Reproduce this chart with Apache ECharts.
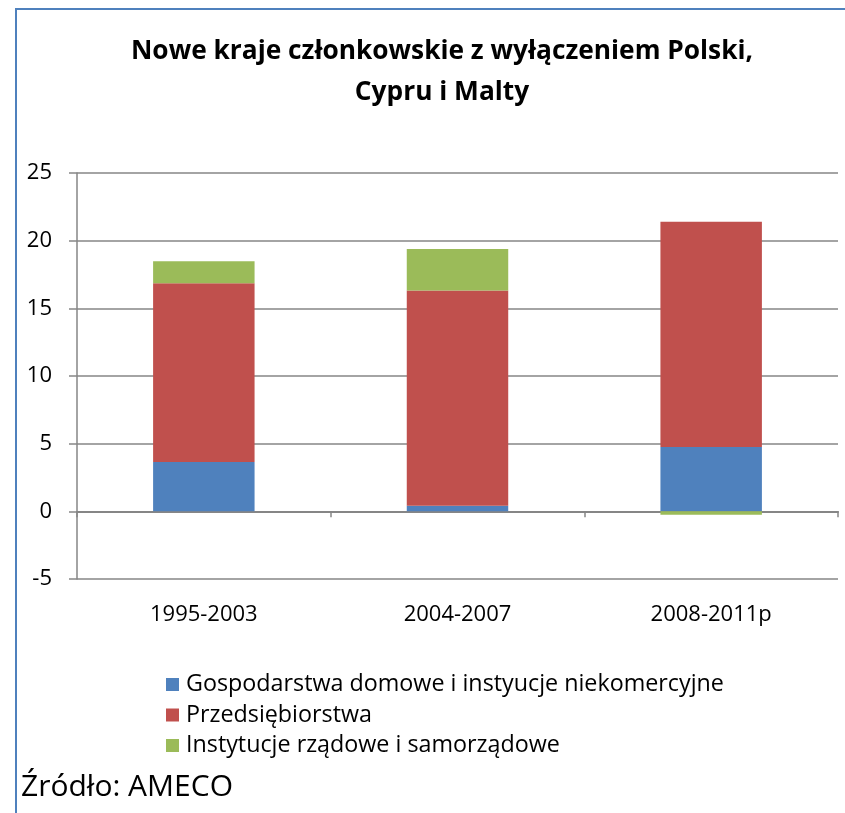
<!DOCTYPE html>
<html>
<head>
<meta charset="utf-8">
<script src="https://cdn.jsdelivr.net/npm/echarts@6/dist/echarts.min.js"></script>
<style>
  html, body { margin: 0; padding: 0; background: #fff; }
  #main { width: 845px; height: 813px; }
</style>
</head>
<body>
<div id="main"></div>
<script>
// chart data
var categories = ['1995-2003', '2004-2007', '2008-2011p'];
var households = [3.65, 0.42, 4.75];
var enterprises = [13.2, 15.9, 16.65];
var government = [1.62, 3.06, -0.25];
var seriesNames = [
    'Gospodarstwa domowe i instyucje niekomercyjne',
    'Przedsiębiorstwa',
    'Instytucje rządowe i samorządowe'
];
var yMin = -5, yMax = 25, yStep = 5;

var font = '"Open Sans", sans-serif';
var gridColor = '#868686';
var borderColor = '#4F81BD';

var myChart = echarts.init(document.getElementById('main'));
myChart.setOption({
    animation: false,
    backgroundColor: '#fff',
    color: ['#4F81BD', '#C0504D', '#9BBB59'],
    title: {
        text: 'Nowe kraje członkowskie z wyłączeniem Polski,\nCypru i Malty',
        left: 437,
        top: 26,
        textAlign: 'center',
        textStyle: {
            fontFamily: font,
            fontWeight: 'bold',
            fontSize: 26.3,
            lineHeight: 41,
            color: '#000'
        }
    },
    grid: {
        left: 77,
        right: 7,
        top: 173,
        bottom: 234,
        containLabel: false
    },
    legend: {
        orient: 'vertical',
        left: 166,
        top: 673,
        padding: 0,
        itemWidth: 13,
        itemHeight: 13,
        itemGap: 7.5,
        icon: 'rect',
        data: seriesNames,
        textStyle: {
            fontFamily: font,
            fontSize: 23.3,
            color: '#000',
            padding: [0, 0, 0, 2]
        }
    },
    xAxis: {
        type: 'category',
        data: categories,
        axisLine: { onZero: true, lineStyle: { color: gridColor, width: 2 } },
        axisTick: { show: true, length: 6, lineStyle: { color: gridColor, width: 1.5 } },
        axisLabel: {
            margin: 25,
            fontFamily: font,
            fontSize: 22,
            color: '#000'
        },
        splitLine: { show: false }
    },
    yAxis: {
        type: 'value',
        min: yMin,
        max: yMax,
        interval: yStep,
        axisLine: { show: true, lineStyle: { color: gridColor, width: 1.5 } },
        axisTick: { show: true, inside: false, length: 8, lineStyle: { color: gridColor, width: 1.5 } },
        axisLabel: {
            margin: 25,
            fontFamily: font,
            fontSize: 22,
            color: '#000'
        },
        splitLine: { show: true, lineStyle: { color: gridColor, width: 1.5 } }
    },
    series: [
        {
            name: seriesNames[0],
            type: 'bar',
            stack: 'total',
            barWidth: '40%',
            data: households
        },
        {
            name: seriesNames[1],
            type: 'bar',
            stack: 'total',
            barWidth: '40%',
            data: enterprises
        },
        {
            name: seriesNames[2],
            type: 'bar',
            stack: 'total',
            barWidth: '40%',
            data: government
        }
    ],
    graphic: [
        {
            type: 'polyline',
            shape: { points: [[16, 813], [16, 9], [845, 9]] },
            style: { stroke: borderColor, lineWidth: 2, fill: null }
        },
        {
            type: 'text',
            left: 21,
            top: 772,
            style: {
                text: 'Źródło: AMECO',
                font: '30px ' + font,
                fill: '#000'
            }
        }
    ]
});
</script>
</body>
</html>
